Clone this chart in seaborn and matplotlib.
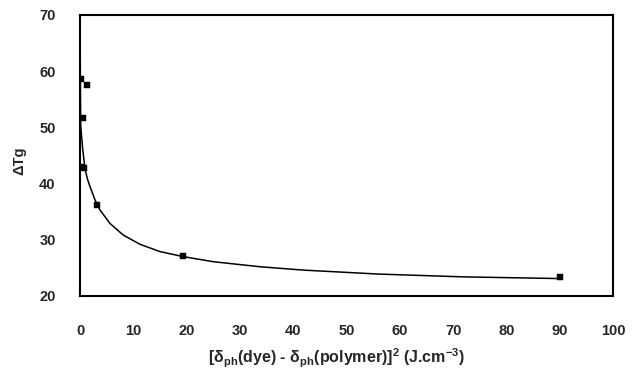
import numpy as np
import pandas as pd
import matplotlib
matplotlib.use('Agg')
import matplotlib.pyplot as plt
import seaborn as sns

# === Data ===
delta_sq = [0.1, 1.4, 0.6, 0.1, 0.75, 3.2, 19.4, 90.0]
delta_tg = [58.7, 57.6, 51.6, 43.0, 42.8, 36.2, 27.2, 23.3]

# trend curve
trend_x = [0.04, 0.08, 0.13, 0.3, 0.5, 0.94, 1.4, 1.88, 2.81, 3.75, 5.63,
           8.1, 11.25, 15.0, 19.4, 25.0, 33.8, 42.0, 56.0, 72.0, 90.0]
trend_y = [62.5, 56.0, 50.3, 48.3, 46.2, 42.6, 40.8, 39.45, 37.1, 35.3, 32.9,
           30.85, 29.2, 27.9, 27.0, 26.1, 25.2, 24.6, 23.9, 23.4, 23.1]

x_ticks = list(range(0, 101, 10))
y_ticks = list(range(20, 71, 10))

df = pd.DataFrame({'x': delta_sq, 'y': delta_tg})
trend = pd.DataFrame({'x': trend_x, 'y': trend_y})

# === Style ===
sns.set_style('white')
plt.rcParams['font.family'] = ['Liberation Sans', 'DejaVu Sans']
plt.rcParams['font.weight'] = 'bold'
plt.rcParams['mathtext.fontset'] = 'custom'
plt.rcParams['mathtext.rm'] = 'Liberation Sans:bold'
plt.rcParams['mathtext.it'] = 'Liberation Sans:bold'
plt.rcParams['mathtext.bf'] = 'Liberation Sans:bold'
plt.rcParams['mathtext.default'] = 'rm'

fig = plt.figure(figsize=(6.32, 3.75), dpi=100)
ax = fig.add_axes([0.1266, 0.2107, 0.8434, 0.7493])

sns.lineplot(data=trend, x='x', y='y', ax=ax, color='black', linewidth=1.1,
             sort=False, estimator=None)
sns.scatterplot(data=df, x='x', y='y', ax=ax, color='black', marker='s', s=14,
                edgecolor='black', zorder=3)

ax.set_xlim(0, 100)
ax.set_ylim(20, 70)
ax.set_xticks(x_ticks)
ax.set_yticks(y_ticks)
ax.tick_params(direction='in', length=5, width=1.2, color='black',
               labelsize=10.5)
ax.tick_params(axis='x', pad=20)
ax.tick_params(axis='y', pad=17.5)
for lbl in ax.get_xticklabels() + ax.get_yticklabels():
    lbl.set_fontweight('bold')
for sp in ax.spines.values():
    sp.set_color('black')
    sp.set_linewidth(1.5)

ax.set_xlabel(r'[$\delta_{ph}$(dye) - $\delta_{ph}$(polymer)]$^2$ (J.cm$^{-3}$)',
              fontsize=11.5, fontweight='bold')
ax.set_ylabel('ΔTg', fontsize=10.5, fontweight='bold')
ax.xaxis.set_label_coords(0.481, -0.18)
ax.yaxis.set_label_coords(-0.10, 0.48)

fig.savefig('out.png', dpi=100)
